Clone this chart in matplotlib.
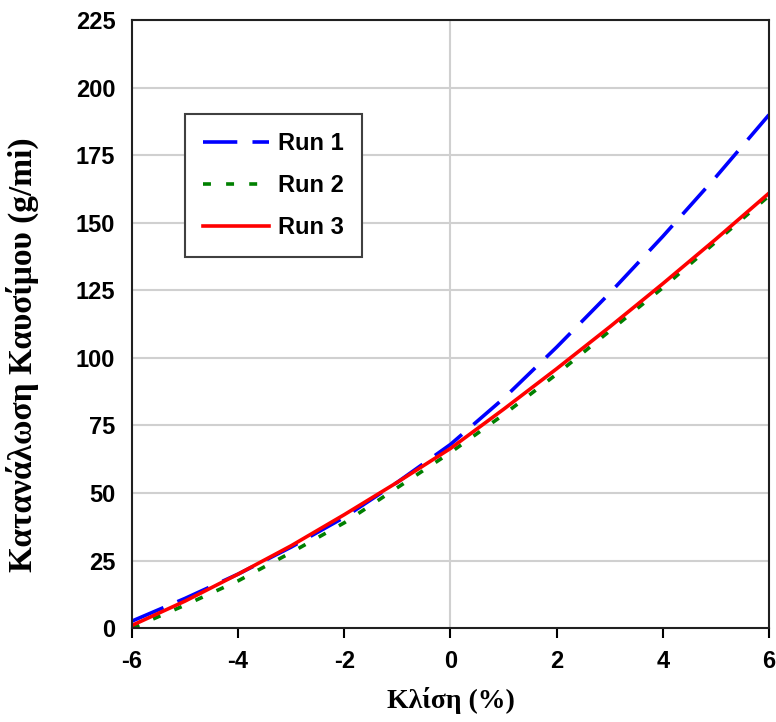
import matplotlib.pyplot as plt

plt.rcParams['axes.unicode_minus'] = False

# Κλίση (%) και κατανάλωση καυσίμου (g/mi) για τρεις εκτελέσεις
slope = [-6, -5, -4, -3, -2, -1, 0, 1, 2, 3, 4, 5, 6]
run1 = [2.6, 11, 20, 30, 41, 54, 68, 85, 104, 124, 145, 167, 190]
run2 = [0, 8.5, 17.5, 28, 39, 52, 65, 79, 94, 110, 126, 143, 160]
run3 = [1, 10, 20, 30.5, 42, 54, 66.5, 81, 96, 111.5, 127.5, 144, 161]

xticks = [-6, -4, -2, 0, 2, 4, 6]
yticks = list(range(0, 226, 25))

fig = plt.figure(figsize=(7.76, 7.22), dpi=100)
ax = fig.add_axes([0.170, 0.130, 0.821, 0.842])

for y in yticks[1:]:
    ax.axhline(y, color='#d0d0d0', lw=1.5, zorder=0)
ax.axvline(0, color='#d0d0d0', lw=1.5, zorder=0)

ax.plot(slope, run1, color='#0000ff', lw=2.6, dashes=(9.5, 4.2), label='Run 1')
ax.plot(slope, run2, color='#008000', lw=2.6, dashes=(2.2, 4.2), label='Run 2')
ax.plot(slope, run3, color='#ff0000', lw=2.6, label='Run 3')

ax.set_xlim(-6, 6)
ax.set_ylim(0, 225)
ax.set_xticks(xticks)
ax.set_yticks(yticks)
ax.tick_params(axis='x', direction='out', length=7, width=1.5, pad=9)
ax.tick_params(axis='y', length=0, pad=12)
for lab in ax.get_xticklabels() + ax.get_yticklabels():
    lab.set_fontfamily('Liberation Sans')
    lab.set_fontweight('bold')
    lab.set_fontsize(17)
for s in ax.spines.values():
    s.set_linewidth(1.5)
    s.set_color('#202020')

ax.set_xlabel('Κλίση (%)', family='Liberation Serif', fontweight='bold', fontsize=20, labelpad=10)
ax.set_ylabel('Κατανάλωση Καυσίμου (g/mi)', family='Liberation Serif', fontweight='bold', fontsize=24)
ax.yaxis.set_label_coords(-0.146, 0.45)

leg = ax.legend(loc='upper left', bbox_to_anchor=(0.083, 0.845), fancybox=False,
                edgecolor='#404040', framealpha=1, handlelength=2.8, borderpad=0.75,
                labelspacing=0.8, handletextpad=0.4, borderaxespad=0,
                prop={'family': 'Liberation Sans', 'weight': 'bold', 'size': 17})
leg.get_frame().set_linewidth(1.5)

plt.savefig('out.png')
